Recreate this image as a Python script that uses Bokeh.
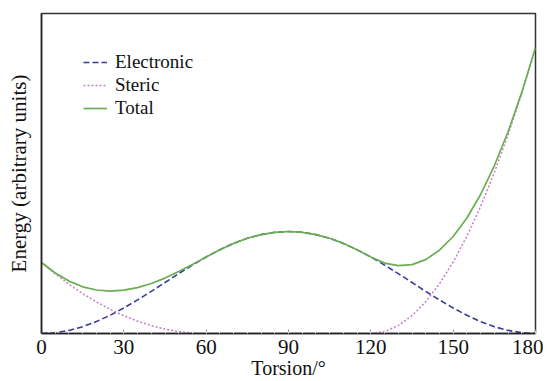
from bokeh.plotting import figure
from bokeh.models import Range1d, FixedTicker, Legend, LegendItem
from bokeh.embed import file_html
from bokeh.resources import INLINE

# Torsion angle (degrees)
torsion = [0, 5, 10, 15, 20, 25, 30, 35, 40, 45, 50, 55, 60, 65, 70, 75, 80, 85, 90,
           95, 100, 105, 110, 115, 120, 125, 130, 135, 140, 145, 150, 155, 160, 165, 170, 175, 180]

# Electronic contribution (arbitrary units)
electronic = [0.00, 0.08, 0.31, 0.68, 1.19, 1.82, 2.55, 3.36, 4.21, 5.10, 5.99, 6.84, 7.65,
              8.38, 9.01, 9.52, 9.89, 10.12, 10.20,
              10.12, 9.89, 9.52, 9.01, 8.38, 7.65, 6.84, 5.99, 5.10, 4.21, 3.36, 2.55,
              1.82, 1.19, 0.68, 0.31, 0.08, 0.00]

# Steric contribution (arbitrary units)
steric = [7.10, 5.97, 4.93, 3.99, 3.16, 2.42, 1.78, 1.23, 0.79, 0.44, 0.20, 0.05, 0.00,
          0.00, 0.00, 0.00, 0.00, 0.00, 0.00,
          0.00, 0.00, 0.00, 0.00, 0.00, 0.00, 0.20, 0.79, 1.79, 3.18, 4.97, 7.15,
          9.73, 12.71, 16.09, 19.86, 24.03, 28.60]

total = [e + s for e, s in zip(electronic, steric)]

x_ticks = [0, 30, 60, 90, 120, 150, 180]

FONT = "Liberation Serif"

p = figure(width=543, height=381, output_backend="svg", toolbar_location=None,
           x_range=Range1d(0, 180), y_range=Range1d(0, 32.0),
           min_border_left=41, min_border_right=8, min_border_top=13, min_border_bottom=48)

p.background_fill_color = "white"
p.border_fill_color = "white"
p.outline_line_color = "#333333"
p.outline_line_width = 1.5
p.grid.visible = False

r_e = p.line(torsion, electronic, line_color="#3b3b96", line_width=1.6, line_dash="6 3")
r_s = p.line(torsion, steric, line_color="#c47fc4", line_width=1.5, line_dash="2 2")
r_t = p.line(torsion, total, line_color="#6aad52", line_width=1.7)

xa = p.xaxis[0]
xa.ticker = FixedTicker(ticks=x_ticks, minor_ticks=list(range(0, 181, 5)))
xa.axis_label = "Torsion/°"
xa.axis_label_text_font = FONT
xa.axis_label_text_font_size = "20px"
xa.axis_label_text_font_style = "normal"
xa.axis_label_text_color = "#111111"
xa.axis_label_standoff = 0
xa.major_label_text_font = FONT
xa.major_label_text_font_size = "21px"
xa.major_label_text_color = "#111111"
xa.major_label_standoff = 6
xa.axis_line_color = "#222222"
xa.axis_line_width = 1.5
xa.major_tick_in = 4
xa.major_tick_out = 0
xa.major_tick_line_color = "#888888"
xa.minor_tick_in = 2
xa.minor_tick_out = 0
xa.minor_tick_line_color = "#dddddd"

ya = p.yaxis[0]
ya.ticker = FixedTicker(ticks=[])
ya.axis_label = "Energy (arbitrary units)"
ya.axis_label_text_font = FONT
ya.axis_label_text_font_size = "21px"
ya.axis_label_text_font_style = "normal"
ya.axis_label_text_color = "#111111"
ya.axis_label_standoff = 11
ya.major_label_text_font_size = "0px"
ya.major_tick_in = 0
ya.major_tick_out = 0
ya.minor_tick_in = 0
ya.minor_tick_out = 0
ya.axis_line_color = "#222222"
ya.axis_line_width = 1.5

legend_labels = ["Electronic", "Steric", "Total"]
legend_renderers = [r_e, r_s, r_t]
legend_y = [260, 237, 214]
for lab, rend, ly in zip(legend_labels, legend_renderers, legend_y):
    lg = Legend(items=[LegendItem(label=lab, renderers=[rend])], location=(42, ly))
    lg.border_line_color = None
    lg.background_fill_alpha = 0
    lg.label_text_font = FONT
    lg.label_text_font_size = "19px"
    lg.label_text_color = "#111111"
    lg.glyph_width = 24
    lg.glyph_height = 14
    lg.label_standoff = 8
    lg.spacing = 0
    lg.label_height = 20
    lg.padding = 0
    lg.margin = 0
    p.add_layout(lg)

open("out.html", "w").write(file_html(p, INLINE))
